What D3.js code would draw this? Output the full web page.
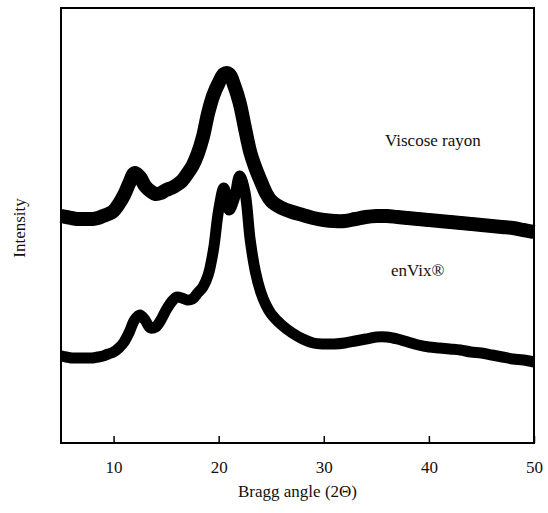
<!DOCTYPE html>
<html>
<head>
<meta charset="utf-8">
<script src="https://cdn.jsdelivr.net/npm/d3@7"></script>
<style>
  body { margin: 0; background: white; }
  text { font-family: "Liberation Serif", "DejaVu Serif", serif; fill: #111; }
</style>
</head>
<body>
<div id="chart"></div>
<script>
/* CONSTANTS AND GLOBALS */
const width = 548;
const height = 513;
const margin = { top: 8, right: 14, bottom: 70, left: 61 };

/* DATA (arbitrary intensity units) */
const angles = [5, 5.5, 6, 6.5, 7, 7.5, 8, 8.5, 9, 9.5, 10, 10.5, 11, 11.5, 12, 12.5,
  13, 13.5, 14, 14.5, 15, 15.5, 16, 16.5, 17, 17.5, 18, 18.5, 19, 19.5, 20, 20.5,
  21, 21.5, 22, 22.5, 23, 23.5, 24, 24.5, 25, 26, 27, 28, 29, 30, 31, 32, 33, 34,
  35, 36, 37, 38, 39, 40, 41, 42, 43, 44, 45, 46, 47, 48, 49, 50];

const viscose = [227, 226, 225, 224, 224, 224, 224, 225, 227, 229, 232, 239, 248, 260, 270, 266,
  257, 252, 249, 250, 253, 255, 258, 262, 269, 277, 289, 306, 330, 348, 360, 369,
  369, 357, 340, 315, 291, 275, 262, 250, 242, 235, 231, 228, 225, 223, 222, 222, 224, 226,
  227, 227, 226, 225, 224, 223, 222, 221, 220, 219, 218, 217, 216, 215, 213, 211];

const envix = [87, 86, 85, 85, 85, 85, 85, 86, 87, 89, 91, 95, 101, 111, 123, 128,
  123, 115, 116, 123, 133, 141, 146, 145, 143, 144, 150, 156, 168, 193, 233, 255,
  233, 245, 267, 251, 203, 171, 151, 138, 129, 118, 110, 104, 100, 99, 99, 100, 102, 104,
  106, 106, 104, 101, 98, 96, 95, 94, 93, 91, 90, 88, 86, 84, 83, 81];

const xTicks = [10, 20, 30, 40, 50];
const seriesNames = ["Viscose rayon", "enVix\u00AE"];

/* SCALES */
const xScale = d3.scaleLinear()
  .domain([5, 50])
  .range([margin.left, width - margin.right]);

const yScale = d3.scaleLinear()
  .domain([0, 435])
  .range([height - margin.bottom, margin.top]);

/* HTML ELEMENTS */
const svg = d3.select("#chart")
  .append("svg")
  .attr("width", width)
  .attr("height", height)
  .style("background-color", "white");

const line = d3.line()
  .x((d, i) => xScale(angles[i]))
  .y(d => yScale(d))
  .curve(d3.curveCatmullRom);

// scatter bands drawn as thick strokes
svg.append("path")
  .attr("d", line(viscose))
  .attr("fill", "none")
  .attr("stroke", "#000")
  .attr("stroke-width", 14)
  .attr("stroke-linejoin", "round");

svg.append("path")
  .attr("d", line(envix))
  .attr("fill", "none")
  .attr("stroke", "#000")
  .attr("stroke-width", 11)
  .attr("stroke-linejoin", "round");

// frame
svg.append("rect")
  .attr("x", margin.left)
  .attr("y", margin.top)
  .attr("width", width - margin.left - margin.right)
  .attr("height", height - margin.top - margin.bottom)
  .attr("fill", "none")
  .attr("stroke", "#000")
  .attr("stroke-width", 2);

// x axis, ticks pointing inwards
const xAxis = svg.append("g")
  .attr("transform", `translate(0,${height - margin.bottom})`)
  .call(d3.axisBottom(xScale).tickValues(xTicks).tickSizeInner(-7).tickSizeOuter(0).tickPadding(18));

xAxis.select(".domain").remove();
xAxis.selectAll("line").attr("stroke", "#000").attr("stroke-width", 1.5);
xAxis.selectAll("text")
  .style("font-family", "'Liberation Serif', serif")
  .style("font-size", "17px")
  .attr("fill", "#111");

// axis titles
svg.append("text")
  .attr("x", (margin.left + width - margin.right) / 2)
  .attr("y", 497)
  .attr("text-anchor", "middle")
  .style("font-size", "17px")
  .text("Bragg angle (2\u0398)");

svg.append("text")
  .attr("transform", `translate(25,228) rotate(-90)`)
  .attr("text-anchor", "middle")
  .style("font-size", "17px")
  .text("Intensity");

// series labels
svg.append("text")
  .attr("x", 385)
  .attr("y", 146)
  .style("font-size", "17px")
  .text(seriesNames[0]);

svg.append("text")
  .attr("x", 391)
  .attr("y", 276)
  .style("font-size", "17px")
  .text(seriesNames[1]);
</script>
</body>
</html>
